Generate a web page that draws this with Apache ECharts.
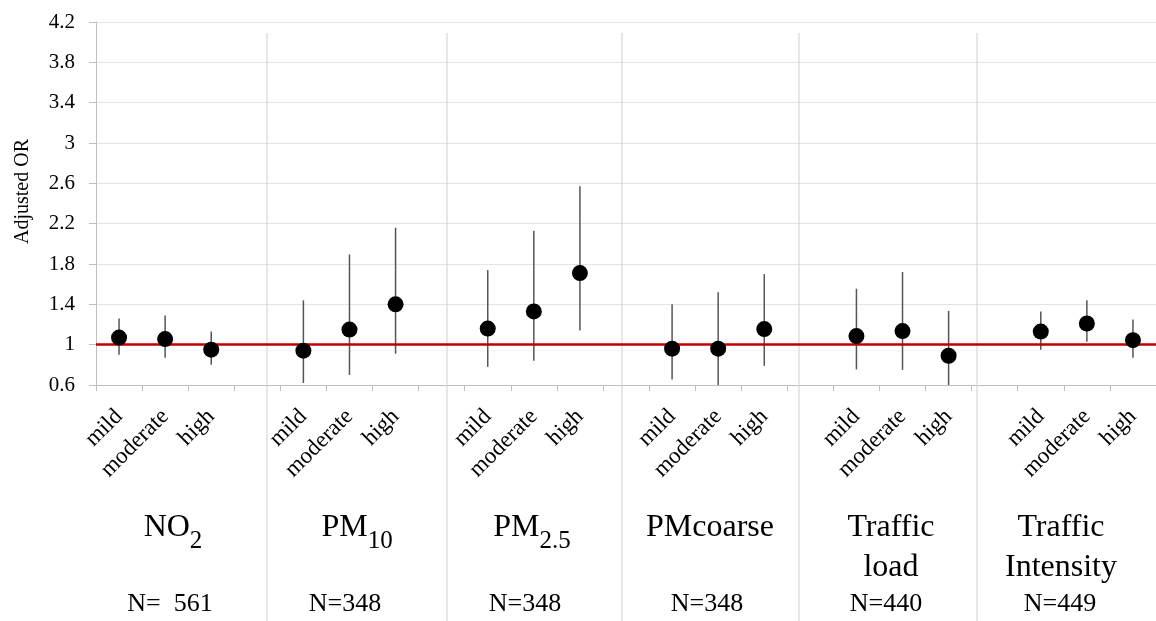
<!DOCTYPE html>
<html><head><meta charset="utf-8">
<script src="https://cdn.jsdelivr.net/npm/echarts@6/dist/echarts.min.js"></script>
<style>html,body{margin:0;padding:0;background:#fff}#c{width:1156px;height:621px}</style>
</head><body><div id="c"></div>
<script>
// ---- data ----
const levels = ['mild', 'moderate', 'high'];
const groupNames = ['NO2', 'PM10', 'PM2.5', 'PMcoarse', 'Traffic load', 'Traffic Intensity'];
const groupLabelsRich = ['{m|NO}{s|2}', '{m|PM}{s|10}', '{m|PM}{s|2.5}', '{m|PMcoarse}', '{m|Traffic}\n{m|load}', '{m|Traffic}\n{m|Intensity}'];
const nLabels = ['N=  561', 'N=348', 'N=348', 'N=348', 'N=440', 'N=449'];
const orNO2 = [1.07, 1.055, 0.95], loNO2 = [0.90, 0.87, 0.80], hiNO2 = [1.26, 1.29, 1.13];
const orPM10 = [0.94, 1.15, 1.40], loPM10 = [0.62, 0.70, 0.91], hiPM10 = [1.44, 1.895, 2.16];
const orPM25 = [1.16, 1.33, 1.71], loPM25 = [0.78, 0.84, 1.14], hiPM25 = [1.74, 2.13, 2.57];
const orPMc = [0.96, 0.96, 1.155], loPMc = [0.655, 0.60, 0.79], hiPMc = [1.40, 1.52, 1.70];
const orTL = [1.085, 1.135, 0.89], loTL = [0.755, 0.75, 0.60], hiTL = [1.555, 1.72, 1.335];
const orTI = [1.13, 1.21, 1.045], loTI = [0.95, 1.03, 0.87], hiTI = [1.33, 1.44, 1.25];
const yMin = 0.6, yMax = 4.2, yStep = 0.4;
const refValue = 1;

// ---- layout ----
const FONT = 'Liberation Serif';
const groupLabelX = [173, 357, 532, 710, 891, 1061];
const nLabelX = [170, 345, 525, 707, 886, 1060];
const separatorX = [267, 447, 622, 799, 977];

const ORs = [orNO2, orPM10, orPM25, orPMc, orTL, orTI];
const LOs = [loNO2, loPM10, loPM25, loPMc, loTL, loTI];
const HIs = [hiNO2, hiPM10, hiPM25, hiPMc, hiTL, hiTI];

const categories = [];
const pointData = [];
const barData = [];
ORs.forEach((g, gi) => {
  if (gi > 0) categories.push('');
  g.forEach((v, li) => {
    const idx = categories.length;
    categories.push(levels[li]);
    pointData.push([idx, v]);
    barData.push([idx, LOs[gi][li], HIs[gi][li]]);
  });
});

const graphics = [];
separatorX.forEach(x => graphics.push({
  type: 'line', z: 1, shape: { x1: x, y1: 33, x2: x, y2: 621 },
  style: { stroke: '#cfcfcf', lineWidth: 1 }
}));
groupLabelsRich.forEach((t, i) => graphics.push({
  type: 'text', x: groupLabelX[i], y: 508,
  style: {
    text: t, align: 'center', verticalAlign: 'top', fill: '#000',
    rich: {
      m: { fontFamily: FONT, fontSize: 32, lineHeight: 40, fill: '#000' },
      s: { fontFamily: FONT, fontSize: 25, lineHeight: 40, padding: [26, 0, 0, 0], fill: '#000' }
    }
  }
}));
nLabels.forEach((t, i) => graphics.push({
  type: 'text', x: nLabelX[i], y: 589,
  style: { text: t, align: 'center', verticalAlign: 'top', fill: '#000',
    fontFamily: FONT, fontSize: 26, lineHeight: 30 }
}));

const chart = echarts.init(document.getElementById('c'));
chart.setOption({
  animation: false,
  backgroundColor: '#fff',
  grid: { left: 96, right: 0, top: 22, bottom: 236, containLabel: false },
  xAxis: {
    type: 'category', data: categories, boundaryGap: true,
    axisLine: { show: true, lineStyle: { color: '#bfbfbf', width: 1 } },
    axisTick: { show: true, interval: 0, length: 6, lineStyle: { color: '#bfbfbf' } },
    axisLabel: { interval: 0, rotate: 45, margin: 28, fontFamily: FONT, fontSize: 23, color: '#000' },
    splitLine: { show: false }
  },
  yAxis: {
    type: 'value', min: yMin, max: yMax, interval: yStep,
    name: 'Adjusted OR', nameLocation: 'middle', nameRotate: 90, nameGap: 63,
    nameTextStyle: { fontFamily: FONT, fontSize: 20, color: '#000', padding: [0, 0, 0, 24] },
    axisLine: { show: true, lineStyle: { color: '#bfbfbf', width: 1 } },
    axisTick: { show: true, length: 7, lineStyle: { color: '#bfbfbf' } },
    axisLabel: { margin: 21, fontFamily: FONT, fontSize: 21, color: '#000',
      formatter: v => String(Math.round(v * 10) / 10) },
    splitLine: { show: true, lineStyle: { color: '#e3e3e3', width: 1 } }
  },
  graphic: graphics,
  series: [
    {
      type: 'custom', name: 'CI', data: barData, z: 3, clip: true,
      encode: { x: 0, y: [1, 2] },
      renderItem: (params, api) => {
        const p1 = api.coord([api.value(0), api.value(1)]);
        const p2 = api.coord([api.value(0), api.value(2)]);
        return { type: 'line', shape: { x1: p1[0], y1: p1[1], x2: p2[0], y2: p2[1] },
          style: { stroke: '#555555', lineWidth: 1.5 } };
      }
    },
    {
      type: 'scatter', name: 'OR', data: pointData, symbol: 'circle', symbolSize: 16, z: 5,
      itemStyle: { color: '#000', opacity: 1 },
      markLine: {
        silent: true, symbol: 'none', label: { show: false }, z: 4,
        lineStyle: { color: '#c00000', width: 2.5, type: 'solid', opacity: 1 },
        data: [{ yAxis: refValue }]
      }
    }
  ]
});
</script></body></html>
